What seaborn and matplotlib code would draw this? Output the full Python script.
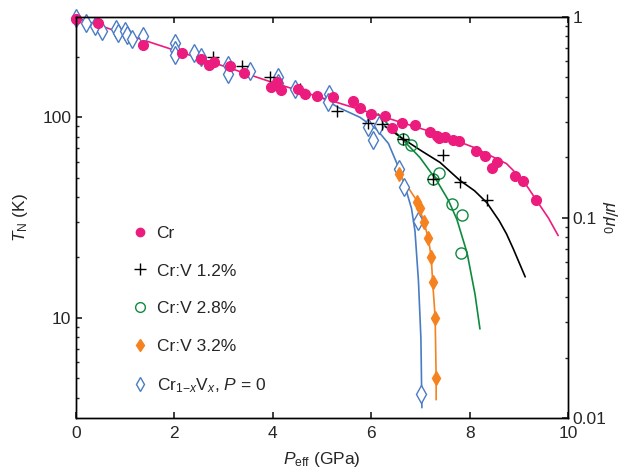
import matplotlib

matplotlib.use("Agg")
import matplotlib.pyplot as plt
from matplotlib.lines import Line2D
from matplotlib.ticker import LogLocator, NullFormatter, FixedLocator, FuncFormatter
import seaborn as sns

# --- data ---
cr_p = [0.0, 0.44, 1.36, 2.15, 2.55, 2.70, 2.81, 3.12, 3.42, 3.97, 4.08, 4.16, 4.51, 4.65, 4.89,
        5.23, 5.62, 5.77, 6.00, 6.28, 6.42, 6.62, 6.90, 7.20, 7.33, 7.38, 7.51, 7.66, 7.79, 8.14,
        8.31, 8.46, 8.56, 8.92, 9.09, 9.35]
cr_t = [310, 294, 228, 208, 195, 183, 188, 181, 166, 141, 150, 136, 138, 130, 127,
        126, 121, 111, 104, 102, 88, 94, 91, 84.5, 81, 79, 80, 77, 76, 68,
        64, 56, 60, 51, 48, 38.5]
cr_line_p = [0, 1, 2, 3, 4, 5, 6, 7, 7.4, 8.07, 8.75, 9.09, 9.36, 9.6, 9.8]
cr_line_t = [314, 260, 216, 180, 149, 125, 105, 88, 82, 71, 58.7, 48.4, 38.5, 31.5, 25.7]

v12_p = [2.78, 3.37, 3.94, 4.55, 5.30, 5.94, 6.21, 6.65, 7.25, 7.45, 7.80, 8.35]
v12_t = [199, 180, 158, 139, 108, 94, 93, 78, 49.4, 65, 47.5, 38.5]
v12_line_p = [6.2, 6.65, 7.0, 7.4, 7.8, 8.1, 8.35, 8.6, 8.75, 8.89, 9.13]
v12_line_t = [93, 78, 68.5, 59.5, 48.5, 43, 37.5, 30.5, 26.2, 22, 16]

v28_p = [6.65, 6.81, 7.25, 7.38, 7.64, 7.84, 7.82]
v28_t = [78, 72.4, 49.4, 52.7, 37, 32.7, 21.1]
v28_line_p = [6.14, 6.52, 6.99, 7.33, 7.57, 7.74, 7.95, 8.11, 8.21]
v28_line_t = [104, 83, 63, 48.4, 38.5, 31, 21, 13.1, 8.8]

v32_p = [6.57, 6.94, 6.99, 7.07, 7.16, 7.22, 7.25, 7.30, 7.32]
v32_t = [52.3, 38, 35.4, 30, 24.9, 20, 15, 10, 5.03]
v32_line_p = [6.48, 6.57, 6.94, 7.07, 7.16, 7.22, 7.25, 7.30, 7.32, 7.32]
v32_line_t = [55.4, 52, 38, 30, 25, 20, 15, 10, 5, 3.9]

x0_p = [0.0, 0.2, 0.39, 0.52, 0.81, 0.86, 1.0, 1.03, 1.13, 1.37, 2.01, 2.01, 2.01, 2.40, 2.55,
        3.08, 3.08, 3.54, 4.11, 4.11, 4.45, 5.15, 5.13, 5.94, 6.15, 6.04, 6.57, 6.67, 6.96, 7.01]
x0_t = [314, 294, 285, 269, 274, 262, 269, 257, 245, 254, 234, 216, 204, 210, 200,
        182, 164, 170, 158, 148, 138, 131, 119, 89.5, 91, 77, 55.4, 44.8, 30.5, 4.19]
x0_line_p = [5.0, 5.33, 5.77, 6.11, 6.35, 6.52, 6.69, 6.82, 6.89, 6.96, 7.01, 7.03]
x0_line_t = [125, 112, 100, 87, 74, 59, 45, 35, 27, 15.3, 7.9, 3.56]

PINK = "#ec1c7e"
GREEN = "#0e8a3e"
ORANGE = "#f5821f"
BLUE = "#4a7cc4"
FS = 12.5

sns.set_theme(style="ticks")
plt.rcParams["font.family"] = ["Liberation Sans", "DejaVu Sans"]
plt.rcParams.update({
    "mathtext.fontset": "custom",
    "mathtext.rm": "Liberation Sans",
    "mathtext.it": "Liberation Sans:italic",
    "mathtext.bf": "Liberation Sans:bold",
    "font.size": FS,
    "axes.linewidth": 1.0,
    "axes.edgecolor": "black",
})

fig = plt.figure(figsize=(6.35, 4.7), dpi=100)
ax = fig.add_axes([0.1197, 0.1106, 0.7748, 0.8532])


def curve(xs, ys, color):
    sns.lineplot(x=xs, y=ys, color=color, lw=1.2, sort=False, estimator=None, ax=ax)


curve(x0_line_p, x0_line_t, BLUE)
curve(v32_line_p, v32_line_t, ORANGE)
curve(v28_line_p, v28_line_t, GREEN)
curve(v12_line_p, v12_line_t, "black")
curve(cr_line_p, cr_line_t, PINK)

ax.plot(x0_p, x0_t, ls="none", marker="d", ms=9, mfc="white", mec=BLUE, mew=1.0, clip_on=False)
ax.plot(v32_p, v32_t, ls="none", marker="d", ms=7.5, mfc=ORANGE, mec=ORANGE, clip_on=False)
ax.plot(v28_p, v28_t, ls="none", marker="o", ms=8, mfc="none", mec=GREEN, mew=1.0, clip_on=False)
ax.plot(v12_p, v12_t, ls="none", marker="+", ms=9, mec="black", mew=1.0, clip_on=False)
ax.plot(cr_p, cr_t, ls="none", marker="o", ms=7, mfc=PINK, mec=PINK, clip_on=False)

ax.set_yscale("log")
ax.set_xlim(0, 10)
ax.set_ylim(10 ** 0.5, 10 ** 2.5)
ax.set_xticks([0, 2, 4, 6, 8, 10])
ax.yaxis.set_major_locator(FixedLocator([10, 100]))
ax.yaxis.set_major_formatter(FuncFormatter(lambda v, _: f"{v:g}"))
ax.yaxis.set_minor_locator(LogLocator(base=10, subs=range(2, 10)))
ax.yaxis.set_minor_formatter(NullFormatter())
ax.tick_params(axis="both", which="both", direction="in", top=True, labelsize=FS)
ax.tick_params(axis="y", which="major", length=4)
ax.tick_params(axis="y", which="minor", length=2.5)
ax.tick_params(axis="x", length=4, pad=6)
ax.set_xlabel("$P_{\\rm eff}$ (GPa)", fontsize=FS, labelpad=6)
ax.set_ylabel("$T_{\\rm N}$ (K)", fontsize=FS, labelpad=9)

ax2 = ax.twinx()
ax2.set_yscale("log")
ax2.set_ylim(0.01, 1)
ax2.yaxis.set_major_locator(FixedLocator([0.01, 0.1, 1]))
ax2.yaxis.set_major_formatter(FuncFormatter(lambda v, _: f"{v:g}"))
ax2.yaxis.set_minor_locator(LogLocator(base=10, subs=range(2, 10)))
ax2.yaxis.set_minor_formatter(NullFormatter())
ax2.tick_params(axis="y", which="both", direction="in", labelsize=FS)
ax2.tick_params(axis="y", which="major", length=4)
ax2.tick_params(axis="y", which="minor", length=2.5)
ax2.set_ylabel("$\\mu/\\mu_0$", rotation=270, fontsize=FS, labelpad=9)

handles = [
    Line2D([], [], ls="none", marker="o", ms=6, mfc=PINK, mec=PINK),
    Line2D([], [], ls="none", marker="+", ms=8, mec="black", mew=1.0),
    Line2D([], [], ls="none", marker="o", ms=7, mfc="none", mec=GREEN, mew=1.0),
    Line2D([], [], ls="none", marker="d", ms=6.5, mfc=ORANGE, mec=ORANGE),
    Line2D([], [], ls="none", marker="d", ms=7.5, mfc="white", mec=BLUE, mew=1.0),
]
labels = ["Cr", "Cr:V 1.2%", "Cr:V 2.8%", "Cr:V 3.2%", "Cr$_{1\\mathrm{-}x}$V$_x$, $P$ = 0"]
ax.legend(handles, labels, loc="upper left", bbox_to_anchor=(0.095, 0.497), frameon=False,
          labelspacing=1.3, handletextpad=0.35, handlelength=1.2, fontsize=FS, borderaxespad=0)

fig.savefig("out.png", dpi=100)
